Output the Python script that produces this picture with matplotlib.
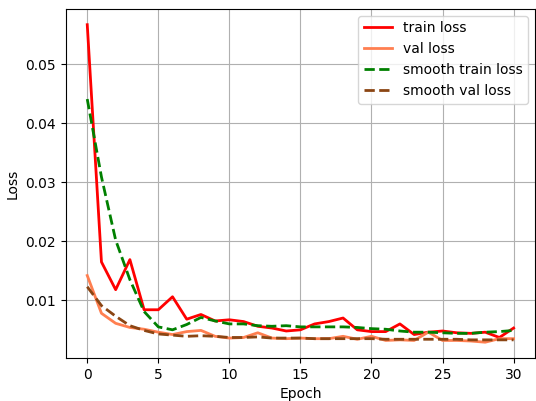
import matplotlib

matplotlib.use("Agg")
import matplotlib.pyplot as plt  # noqa: E402

epochs = list(range(31))

train_loss = [0.0567, 0.0165, 0.0118, 0.0169, 0.0084, 0.0084, 0.0106, 0.0068, 0.0076, 0.0065,
              0.0067, 0.0064, 0.0056, 0.0053, 0.0048, 0.0050, 0.0060, 0.0064, 0.0070, 0.0050,
              0.0047, 0.0047, 0.0060, 0.0042, 0.0046, 0.0048, 0.0045, 0.0044, 0.0046, 0.0037,
              0.0053]
val_loss = [0.0142, 0.0078, 0.0061, 0.0054, 0.0051, 0.0046, 0.0042, 0.0047, 0.0049, 0.0039,
            0.0036, 0.0037, 0.0045, 0.0036, 0.0035, 0.0036, 0.0035, 0.0035, 0.0039, 0.0034,
            0.0039, 0.0032, 0.0033, 0.0032, 0.0046, 0.0032, 0.0032, 0.0031, 0.0029, 0.0035,
            0.0035]
smooth_train = [0.0441, 0.0309, 0.0202, 0.0135, 0.0081, 0.0055, 0.0050, 0.0059, 0.0071, 0.0065,
                0.0060, 0.0060, 0.0057, 0.0056, 0.0057, 0.0055, 0.0055, 0.0055, 0.0055, 0.0054,
                0.0052, 0.0051, 0.0048, 0.0046, 0.0046, 0.0045, 0.0044, 0.0044, 0.0046, 0.0047,
                0.0049]
smooth_val = [0.0123, 0.0091, 0.0073, 0.0057, 0.0049, 0.0043, 0.0041, 0.0039, 0.0040, 0.0039,
              0.0037, 0.0037, 0.0038, 0.0036, 0.0036, 0.0036, 0.0035, 0.0035, 0.0035, 0.0035,
              0.0035, 0.0034, 0.0034, 0.0034, 0.0034, 0.0034, 0.0034, 0.0033, 0.0033, 0.0033,
              0.0033]

fig = plt.figure(figsize=(5.36, 4.01), dpi=100)
ax = fig.add_axes([0.123, 0.107, 0.875, 0.871])

ax.plot(epochs, train_loss, color="red", lw=2, label="train loss")
ax.plot(epochs, val_loss, color="coral", lw=2, label="val loss")
ax.plot(epochs, smooth_train, color="green", lw=2, ls="--", label="smooth train loss")
ax.plot(epochs, smooth_val, color="saddlebrown", lw=2, ls="--", label="smooth val loss")

ax.set_xlabel("Epoch")
ax.set_ylabel("Loss")
ax.grid(True)
ax.legend(loc="upper right")

fig.savefig("out.png", dpi=100)
plt.close(fig)
